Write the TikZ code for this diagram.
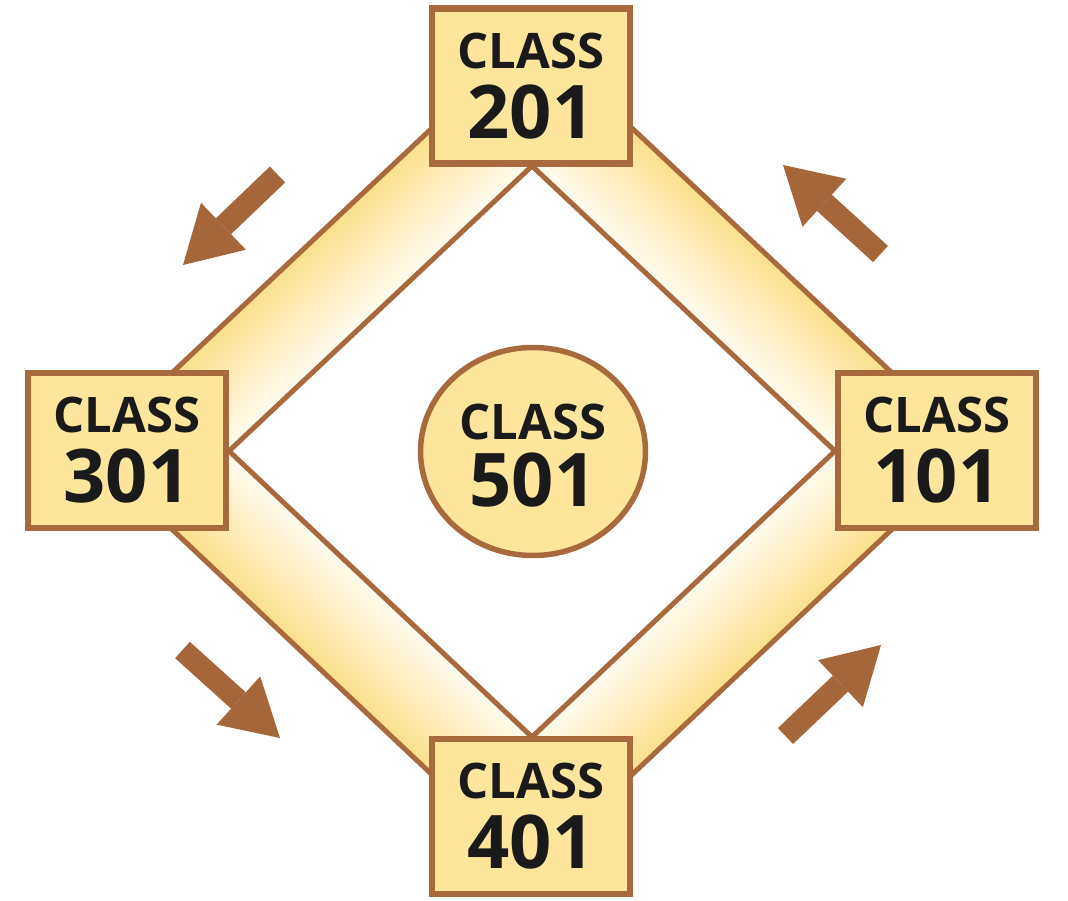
\documentclass[tikz,border=0pt]{standalone}
\usepackage{fontspec}
\setmainfont{Open Sans}
\usetikzlibrary{arrows.meta,shapes.geometric,calc}
\definecolor{brownline}{HTML}{A86A3C}
\definecolor{arrowbrown}{HTML}{A5663A}
\definecolor{boxfill}{HTML}{FDE59B}
\definecolor{bandout}{HTML}{FCDF8C}
\definecolor{bandin}{HTML}{FFFCEF}
\definecolor{textblack}{HTML}{1A1A1A}
\begin{document}
\begin{tikzpicture}[x=1pt,y=-1pt,
  classbox/.style={draw=brownline, line width=6.5pt, fill=boxfill, minimum width=198pt, minimum height=155pt, inner sep=0pt},
  classcirc/.style={ellipse, draw=brownline, line width=5.5pt, fill=boxfill, minimum width=225pt, minimum height=208pt, inner sep=0pt},
  wordtxt/.style={anchor=base, inner sep=0pt, text=textblack, font=\fontsize{49}{49}\selectfont\bfseries},
  numtxt/.style={anchor=base, inner sep=0pt, text=textblack, font=\fontsize{74}{74}\selectfont\bfseries},
  bandedge/.style={draw=brownline, line width=5pt, line join=miter},
  flowarrow/.style={draw=arrowbrown, line width=22pt, -{Triangle[length=56pt,width=65pt,line width=0pt]}}
]
\useasboundingbox (0,0) rectangle (1068,900);
\fill[white] (0,0) rectangle (1068,900);
% band diamond corners
\coordinate (oT) at (532,34);
\coordinate (oL) at (89,451);
\coordinate (oB) at (532,869);
\coordinate (oR) at (975,451);
\coordinate (iT) at (532,166);
\coordinate (iL) at (229,451);
\coordinate (iB) at (532,737);
\coordinate (iR) at (835,451);
% band gradient: yellow at outer edge, cream at inner edge
\foreach \oa/\ob/\ia/\ib in {oT/oL/iT/iL, oL/oB/iL/iB, oB/oR/iB/iR, oR/oT/iR/iT}{
  \foreach \k in {0,...,29}{
    \pgfmathsetmacro\fa{\k/30}
    \pgfmathsetmacro\fb{min(1,(\k+1.1)/30)}
    \pgfmathsetmacro\pc{100*(\k+0.5)/30}
    \fill[bandin!\pc!bandout] ($(\oa)!\fa!(\ia)$) -- ($(\ob)!\fa!(\ib)$) -- ($(\ob)!\fb!(\ib)$) -- ($(\oa)!\fb!(\ia)$) -- cycle;
  }
}
\draw[bandedge] (oT) -- (oL) -- (oB) -- (oR) -- cycle;
\draw[bandedge] (iT) -- (iL) -- (iB) -- (iR) -- cycle;
% boxes
\node[classbox] (c201) at (531,86) {};
\node[wordtxt] (c201w) at ($(c201.center)+(0,-18)$) {CLASS};
\node[numtxt] (c201n) at ($(c201.center)+(0,52)$) {201};
\node[classbox] (c301) at (127,450.5) {};
\node[wordtxt] (c301w) at ($(c301.center)+(0,-18)$) {CLASS};
\node[numtxt] (c301n) at ($(c301.center)+(0,52)$) {301};
\node[classbox] (c101) at (937,450.5) {};
\node[wordtxt] (c101w) at ($(c101.center)+(0,-18)$) {CLASS};
\node[numtxt] (c101n) at ($(c101.center)+(0,52)$) {101};
\node[classbox] (c401) at (531,816.5) {};
\node[wordtxt] (c401w) at ($(c401.center)+(0,-18)$) {CLASS};
\node[numtxt] (c401n) at ($(c401.center)+(0,52)$) {401};
\node[classcirc] (c501) at (533,451.5) {};
\node[wordtxt] (c501w) at ($(c501.center)+(0,-12)$) {CLASS};
\node[numtxt] (c501n) at ($(c501.center)+(0,55)$) {501};
% arrows
\coordinate (a1s) at (277.5,174.5); \coordinate (a1e) at (183,265);
\coordinate (a2s) at (182.5,650);   \coordinate (a2e) at (280,738);
\coordinate (a3s) at (880.5,254);   \coordinate (a3e) at (783,165);
\coordinate (a4s) at (785.5,736);   \coordinate (a4e) at (881,645);
\draw[flowarrow] (a1s) -- (a1e);
\draw[flowarrow] (a2s) -- (a2e);
\draw[flowarrow] (a3s) -- (a3e);
\draw[flowarrow] (a4s) -- (a4e);
\end{tikzpicture}
\end{document}
